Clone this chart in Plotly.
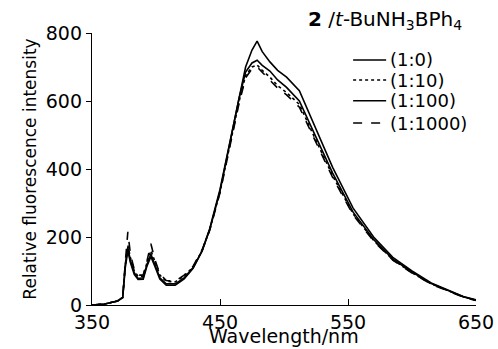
import plotly.graph_objects as go

wavelength = [350, 360, 370, 374, 376, 378, 380, 383, 386, 390, 393, 396, 399, 403, 408,
              415, 422, 429, 436, 442, 450, 455, 460, 465, 470, 475, 479, 483, 489, 495,
              502, 512, 523, 538, 554, 570, 585, 600, 615, 630, 640, 650]

r_1_0 = [0, 3, 12, 22, 120, 170, 130, 95, 78, 80, 120, 150, 120, 80, 62,
         62, 80, 110, 160, 225, 340, 430, 530, 620, 700, 750, 776, 745, 715, 690,
         670, 630, 535, 405, 285, 200, 140, 100, 65, 40, 25, 15]
r_1_10 = [0, 3, 12, 22, 115, 175, 140, 100, 85, 85, 125, 160, 130, 88, 70,
          68, 85, 112, 160, 222, 332, 420, 515, 600, 675, 700, 706, 690, 670, 645,
          625, 590, 500, 380, 268, 190, 133, 95, 62, 38, 24, 14]
r_1_100 = [0, 3, 12, 22, 110, 160, 125, 90, 75, 76, 115, 142, 115, 76, 58,
           58, 77, 108, 158, 222, 335, 425, 522, 610, 685, 712, 720, 705, 688, 662,
           640, 600, 510, 388, 273, 193, 135, 97, 63, 39, 24, 14]
r_1_1000 = [0, 3, 12, 22, 125, 215, 150, 105, 88, 88, 130, 180, 135, 92, 72,
            70, 88, 114, 162, 220, 330, 418, 512, 595, 668, 695, 700, 685, 662, 638,
            618, 582, 494, 375, 265, 188, 132, 94, 61, 37, 23, 13]

series_names = ["(1:0)", "(1:10)", "(1:100)", "(1:1000)"]
series_values = [r_1_0, r_1_10, r_1_100, r_1_1000]
dashes = ["solid", "dot", "solid", "dash"]
legend_title = "<b>2</b> /<i>t</i>-BuNH<sub>3</sub>BPh<sub>4</sub>"
x_title = "Wavelength/nm"
y_title = "Relative fluorescence intensity"

FONT = "DejaVu Sans, Verdana, sans-serif"

fig = go.Figure()
for name, vals, d in zip(series_names, series_values, dashes):
    fig.add_trace(go.Scatter(x=wavelength, y=vals, mode="lines", name=name,
                             line=dict(color="black", width=1.6, dash=d),
                             showlegend=False))

fig.update_layout(
    width=498, height=349,
    margin=dict(l=92, r=22, t=33, b=44),
    paper_bgcolor="white", plot_bgcolor="white",
    font=dict(family=FONT, size=20, color="black"),
    xaxis=dict(range=[350, 650], tickvals=[350, 450, 550, 650],
               ticks="inside", ticklen=6, tickcolor="black", tickwidth=1.3,
               showline=True, linecolor="black", linewidth=1.4,
               showgrid=False, zeroline=False, automargin=False,
               tickfont=dict(size=19)),
    yaxis=dict(range=[0, 800], tickvals=[0, 200, 400, 600, 800],
               ticks="outside", ticklen=5, tickcolor="black", tickwidth=1.3,
               showline=True, linecolor="black", linewidth=1.4,
               showgrid=False, zeroline=False, automargin=False,
               tickfont=dict(size=19),
               title=dict(text=y_title, standoff=4, font=dict(size=17))),
)

# x-axis title placed just below tick labels
fig.add_annotation(text=x_title, xref="paper", yref="paper",
                   x=0.5, y=-0.068, xanchor="center", yanchor="top",
                   showarrow=False, font=dict(size=19, family=FONT))

# legend title
fig.add_annotation(text=legend_title, xref="paper", yref="paper",
                   x=0.558, y=1.048, xanchor="left", yanchor="middle",
                   showarrow=False, font=dict(size=20, family=FONT))

# manual legend
row_y = [0.901, 0.827, 0.751, 0.669]
for name, d, yy in zip(series_names, dashes, row_y):
    fig.add_shape(type="line", xref="paper", yref="paper",
                  x0=0.680, x1=0.766, y0=yy, y1=yy,
                  line=dict(color="black", width=1.4, dash=d))
    fig.add_annotation(text=name, xref="paper", yref="paper",
                       x=0.770, y=yy, xanchor="left", yanchor="middle",
                       showarrow=False, font=dict(size=18, family=FONT))

fig.write_html("out.html")
